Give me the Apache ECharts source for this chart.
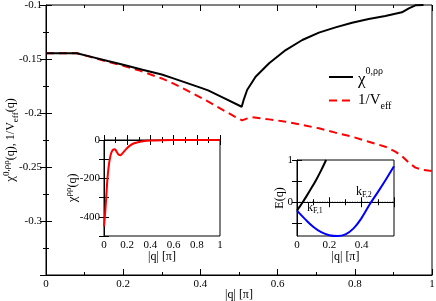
<!DOCTYPE html>
<html><head><meta charset="utf-8">
<script src="https://cdn.jsdelivr.net/npm/echarts@6/dist/echarts.min.js"></script>
<style>html,body{margin:0;padding:0;background:#fff}#c{width:436px;height:301px}</style>
</head><body><div id="c"></div>
<script>
// Main panel data
const chiQ = [0, 0.08, 0.115, 0.16, 0.2, 0.25, 0.3, 0.33, 0.4, 0.42, 0.46, 0.507, 0.512, 0.521, 0.543, 0.578, 0.621, 0.664, 0.707, 0.75, 0.793, 0.836, 0.879, 0.922, 0.94, 0.957, 0.978];
const chiVal = [-0.1447,-0.1447,-0.1478,-0.1518,-0.1553,-0.1600,-0.1644,-0.1679,-0.1765,-0.1790,-0.1860,-0.1942,-0.1880,-0.1787,-0.1664,-0.1540,-0.1417,-0.1324,-0.1256,-0.1207,-0.1164,-0.1130,-0.1102,-0.1068,-0.1031,-0.1003,-0.1000];
const veffQ = [0, 0.08, 0.115, 0.157, 0.2, 0.243, 0.3, 0.329, 0.37, 0.416, 0.46, 0.49, 0.508, 0.52, 0.534, 0.578, 0.621, 0.664, 0.707, 0.75, 0.793, 0.836, 0.879, 0.905, 0.922, 0.94, 0.957, 0.978, 1.0];
const veffVal = [-0.1447,-0.1447,-0.1480,-0.1522,-0.1562,-0.1608,-0.1680,-0.1725,-0.1800,-0.1886,-0.1975,-0.2035,-0.2068,-0.2052,-0.2040,-0.2059,-0.2080,-0.2111,-0.2142,-0.2182,-0.2219,-0.2266,-0.2312,-0.2358,-0.2398,-0.2460,-0.2506,-0.2528,-0.2537];
// Inset 1: chi^rho rho(q)
const insetQ = [0,0.01,0.02,0.03,0.04,0.05,0.06,0.07,0.08,0.09,0.1,0.11,0.12,0.13,0.14,0.15,0.17,0.2,0.23,0.26,0.3,0.35,0.4,0.5,0.6,0.8,1.0];
const insetChi = [-450,-380,-290,-200,-140,-100,-72,-57,-50,-48,-52,-62,-72,-78,-79,-76,-62,-42,-27,-17,-10,-5,-3,-1,0,0,0];
// Inset 2: bands E(q)
const band1Q = [0, 0.03, 0.06, 0.09, 0.12, 0.15, 0.18];
const band1E = [-0.2, -0.03, 0.15, 0.34, 0.54, 0.76, 1.0];
const band2Q = [0, 0.05, 0.1, 0.15, 0.2, 0.25, 0.3, 0.35, 0.4, 0.45, 0.5, 0.55, 0.6];
const band2E = [-0.2, -0.4, -0.58, -0.71, -0.78, -0.8, -0.76, -0.62, -0.37, -0.05, 0.24, 0.54, 0.85];
// Fermi level (E = 0) reference line
const fermiQ = [0, 0.6];
const fermiE = [0, 0];
// Tick labels
const inset2YLabels = [0, 1];
const inset2YTicks = [-0.5, 0, 0.5, 1];

const zip = (a, b) => a.map((v, i) => [v, b[i]]);
const F = 'Liberation Serif';
const ax = '#000';

function xAx(grid, min, max, interval, opts) {
  opts = opts || {};
  const top = !!opts.mirror;
  return Object.assign({
    type: 'value', gridIndex: grid, min, max, interval,
    position: top ? 'top' : 'bottom', nameMoveOverlap: false,
    axisLine: { show: !top, lineStyle: { color: ax, width: 1 } },
    axisTick: { show: true, inside: true, length: opts.tl || 6, lineStyle: { color: ax } },
    minorTick: { show: true, splitNumber: 2, length: 3, lineStyle: { color: ax } },
    splitLine: { show: false },
    axisLabel: { show: !top, color: '#000', fontFamily: F, fontSize: 11, margin: 4,
      showMaxLabel: opts.showMax !== false, formatter: v => String(+v.toFixed(2)) },
  }, opts.extra || {});
}
function yAx(grid, min, max, interval, opts) {
  opts = opts || {};
  const right = !!opts.mirror;
  return Object.assign({
    type: 'value', gridIndex: grid, min, max, interval,
    position: right ? 'right' : 'left', nameMoveOverlap: false,
    axisLine: { show: !right, lineStyle: { color: ax, width: 1 } },
    axisTick: { show: true, inside: true, length: opts.tl || 6, lineStyle: { color: ax } },
    minorTick: { show: !!opts.minor, splitNumber: 2, length: 3, lineStyle: { color: ax } },
    splitLine: { show: false },
    axisLabel: { show: !right, color: '#000', fontFamily: F, fontSize: 11, margin: 4 },
  }, opts.extra || {});
}

const chart = echarts.init(document.getElementById('c'), null, { renderer: 'canvas' });
const gridStyle = { show: true, borderColor: '#000', borderWidth: 1, backgroundColor: '#fff',
  containLabel: false, outerBoundsMode: 'none' };

const option = {
  animation: false,
  backgroundColor: '#fff',
  grid: [
    Object.assign({ left: 46, right: 4, top: 5, bottom: 26 }, gridStyle),
    Object.assign({ left: 104, right: 216, top: 140, bottom: 65 }, gridStyle),
    Object.assign({ left: 297, right: 42, top: 160, bottom: 65 }, gridStyle),
  ],
  xAxis: [
    xAx(0, 0, 1, 0.2, { extra: { name: '|q| [π]', nameLocation: 'middle', nameGap: 14,
      nameTextStyle: { fontFamily: F, fontSize: 12, color: '#000' } } }),
    xAx(0, 0, 1, 0.2, { mirror: true }),
    xAx(1, 0, 1, 0.2, { tl: 5, extra: { name: '|q| [π]', nameLocation: 'middle', nameGap: 15,
      nameTextStyle: { fontFamily: F, fontSize: 12, color: '#000' } } }),
    xAx(1, 0, 1, 0.2, { mirror: true, tl: 5 }),
    xAx(2, 0, 0.6, 0.2, { tl: 5, showMax: false, extra: { name: '|q| [π]', nameLocation: 'middle', nameGap: 15,
      nameTextStyle: { fontFamily: F, fontSize: 12, color: '#000' } } }),
    xAx(2, 0, 0.6, 0.2, { mirror: true, tl: 5 }),
  ],
  yAxis: [
    yAx(0, -0.35, -0.1, 0.05, { minor: true, extra: {
      axisLabel: { color: '#000', fontFamily: F, fontSize: 11, margin: 4, showMinLabel: false,
        formatter: v => String(+v.toFixed(2)) },
      name: '{g|χ}{sup|0,ρρ}{t|(q), 1/V}{sub|eff}{t|(q)}', nameLocation: 'middle', nameGap: 26, nameRotate: 90,
      nameTextStyle: { fontFamily: F, fontSize: 12, color: '#000', rich: {
        g: { fontFamily: F, fontSize: 13, color: '#000', verticalAlign: 'middle', lineHeight: 18 },
        t: { fontFamily: F, fontSize: 12, color: '#000', verticalAlign: 'middle', lineHeight: 18 },
        sup: { fontFamily: F, fontSize: 9, color: '#000', verticalAlign: 'top', lineHeight: 18 },
        sub: { fontFamily: F, fontSize: 9, color: '#000', verticalAlign: 'bottom', lineHeight: 18 } } } } }),
    yAx(0, -0.35, -0.1, 0.05, { mirror: true, minor: true }),
    yAx(1, -500, 0, 100, { tl: 5, extra: {
      axisLabel: { color: '#000', fontFamily: F, fontSize: 11, margin: 4,
        formatter: v => (Math.round(v) % 200 === 0 ? String(Math.round(v)) : '') },
      name: '{g|χ}{sup|ρρ}{t|(q)}', nameLocation: 'middle', nameGap: 22, nameRotate: 90,
      nameTextStyle: { fontFamily: F, fontSize: 12, color: '#000', rich: {
        g: { fontFamily: F, fontSize: 13, color: '#000', verticalAlign: 'middle', lineHeight: 18 },
        t: { fontFamily: F, fontSize: 12, color: '#000', verticalAlign: 'middle', lineHeight: 18 },
        sup: { fontFamily: F, fontSize: 9, color: '#000', verticalAlign: 'top', lineHeight: 18 } } } } }),
    yAx(1, -500, 0, 100, { mirror: true, tl: 5 }),
    yAx(2, -0.8, 1, null, { tl: 5, extra: {
      axisTick: { show: true, inside: true, length: 5, lineStyle: { color: ax }, customValues: inset2YTicks },
      axisLabel: { color: '#000', fontFamily: F, fontSize: 11, margin: 4, customValues: inset2YLabels },
      name: 'E(q)', nameLocation: 'middle', nameGap: 11, nameRotate: 90,
      nameTextStyle: { fontFamily: F, fontSize: 12, color: '#000' } } }),
    yAx(2, -0.8, 1, null, { mirror: true, tl: 5, extra: {
      axisTick: { show: true, inside: true, length: 5, lineStyle: { color: ax }, customValues: inset2YTicks } } }),
  ],
  legend: {
    orient: 'vertical', left: 323, top: 61, itemWidth: 24, itemHeight: 12, itemGap: 5,
    data: ['chi', 'veff'],
    itemStyle: { opacity: 0 },
    formatter: n => n === 'chi' ? '{g|χ}{sup|0,ρρ}' : '{t|1/V}{sub|eff}',
    textStyle: { fontFamily: F, fontSize: 15, color: '#000', rich: {
      g: { fontFamily: F, fontSize: 17, color: '#000', verticalAlign: 'bottom', lineHeight: 22 },
      t: { fontFamily: F, fontSize: 15, color: '#000', verticalAlign: 'middle', lineHeight: 22 },
      sup: { fontFamily: F, fontSize: 10, color: '#000', verticalAlign: 'top', lineHeight: 22 },
      sub: { fontFamily: F, fontSize: 10, color: '#000', verticalAlign: 'bottom', lineHeight: 22 } } }
  },
  series: [
    { name: 'veff', type: 'line', xAxisIndex: 0, yAxisIndex: 0, data: zip(veffQ, veffVal), symbol: 'none',
      lineStyle: { color: '#ff0000', width: 2, type: [8, 5] }, itemStyle: { color: '#ff0000' } },
    { name: 'chi', type: 'line', xAxisIndex: 0, yAxisIndex: 0, data: zip(chiQ, chiVal), symbol: 'none',
      lineStyle: { color: '#000', width: 2 }, itemStyle: { color: '#000' }, z: 3 },
    { name: 'inset', type: 'line', xAxisIndex: 2, yAxisIndex: 2, data: zip(insetQ, insetChi), symbol: 'none',
      smooth: 0.3, lineStyle: { color: '#ff0000', width: 2 } },
    { name: 'fermi', type: 'line', xAxisIndex: 4, yAxisIndex: 4, data: zip(fermiQ, fermiE), symbol: 'none',
      lineStyle: { color: '#000', width: 1, type: [1, 1.5] }, z: 2 },
    { name: 'band2', type: 'line', xAxisIndex: 4, yAxisIndex: 4, data: zip(band2Q, band2E), symbol: 'none',
      smooth: 0.4, lineStyle: { color: '#0000ff', width: 2 }, z: 3 },
    { name: 'band1', type: 'line', xAxisIndex: 4, yAxisIndex: 4, data: zip(band1Q, band1E), symbol: 'none',
      smooth: 0.3, lineStyle: { color: '#000', width: 2 }, z: 3 },
  ],
  graphic: [
    { type: 'text', left: 307, top: 202, z: 10, style: { rich: {
        k: { fontFamily: F, fontSize: 12, fill: '#000' }, s: { fontFamily: F, fontSize: 8, fill: '#000', padding: [6, 0, 0, 0] } },
        text: '{k|k}{s|F,1}' } },
    { type: 'text', left: 356, top: 186, z: 10, style: { rich: {
        k: { fontFamily: F, fontSize: 12, fill: '#000' }, s: { fontFamily: F, fontSize: 8, fill: '#000', padding: [6, 0, 0, 0] } },
        text: '{k|k}{s|F,2}' } },
  ],
};
chart.setOption(option);
</script></body></html>
